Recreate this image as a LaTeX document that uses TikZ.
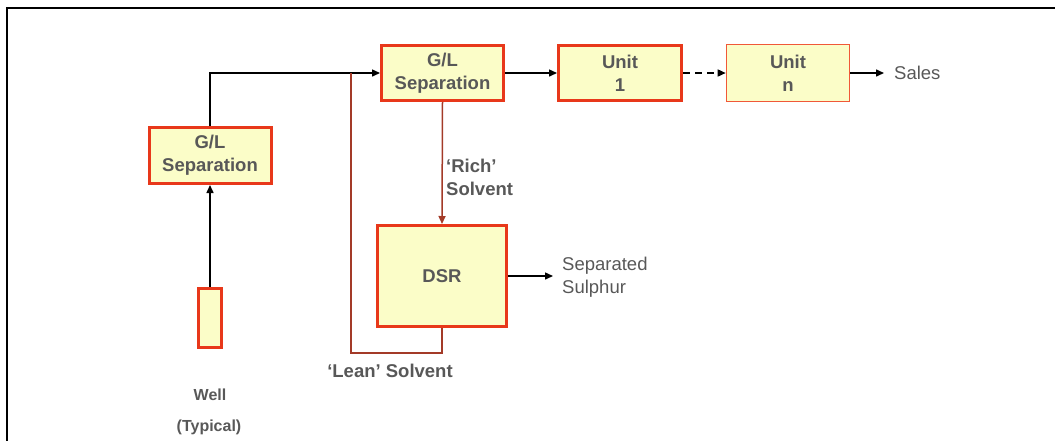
\documentclass[tikz,border=0pt]{standalone}
\usepackage{fontspec}
\setmainfont{Liberation Sans}
\usetikzlibrary{arrows.meta}
\definecolor{boxfill}{HTML}{FBFDC8}
\definecolor{boxred}{HTML}{E8381A}
\definecolor{unitnred}{HTML}{F05838}
\definecolor{solvred}{HTML}{A33A28}
\definecolor{txt}{HTML}{585858}
\tikzset{
  unitbox/.style={draw=boxred, line width=3pt, fill=boxfill, inner sep=0pt, align=center,
    text=txt, font=\fontsize{18.5}{23}\selectfont\bfseries},
  thinbox/.style={unitbox, draw=unitnred, line width=1.6pt},
  flow/.style={draw=black, line width=1.5pt, -{Triangle[length=8pt,width=7pt]}},
  solv/.style={draw=solvred, line width=1.5pt},
  lbl/.style={text=txt, inner sep=0pt, font=\fontsize{18.5}{23}\selectfont\bfseries},
  plainlbl/.style={text=txt, inner sep=0pt, align=left, font=\fontsize{18.5}{23}\selectfont},
  welllbl/.style={text=txt, inner sep=0pt, font=\fontsize{16}{20}\selectfont\bfseries}
}
\begin{document}
\begin{tikzpicture}[x=1pt,y=-1pt]
\useasboundingbox (0,0) rectangle (1055,440);
\draw[line width=2pt] (7,441) -- (7,8) -- (1056,8);

\node[unitbox, minimum width=122pt, minimum height=56pt] (gl1) at (210,155.5) {G/L\\Separation};
\node[unitbox, minimum width=23pt, minimum height=59pt] (well) at (210,318) {};
\node[welllbl] (welltxt) at (210,395) {Well};
\node[welllbl] (typ) at (209,427) {(Typical)};

\node[unitbox, minimum width=122pt, minimum height=55pt] (gl2) at (442.5,73) {G/L\\Separation};
\node[unitbox, minimum width=123pt, minimum height=55pt] (u1) at (620,73) {Unit\\1};
\node[thinbox, minimum width=123pt, minimum height=57pt] (un) at (788,73) {Unit\\n};
\node[plainlbl, anchor=west] (sales) at (894,73) {Sales};

\node[unitbox, minimum width=129pt, minimum height=101pt] (dsr) at (442,276) {DSR};
\node[plainlbl, anchor=west] (sulph) at (562,277.5) {Separated\\Sulphur};

\node[lbl, anchor=west, align=left] (rich) at (446,177) {‘Rich’\\Solvent};
\node[lbl] (lean) at (390,371) {‘Lean’ Solvent};

\coordinate (j) at (351,73);

% main flow
\draw[flow] (well.north) -- (gl1.south);
\draw[flow] (gl1.north) |- (gl2.west);
\draw[flow] (gl2.east) -- (u1.west);
\draw[flow, dashed, dash pattern=on 7pt off 5pt] (u1.east) -- (un.west);
\draw[flow] (un.east) -- (884,73);
\draw[flow] (dsr.east) -- (553,276);

% solvent loop
\draw[solv, -{Triangle[length=8pt,width=7pt]}] (gl2.south) -- (dsr.north);
\draw[solv] (dsr.south) -- (442,353) -| (j);
\end{tikzpicture}
\end{document}
